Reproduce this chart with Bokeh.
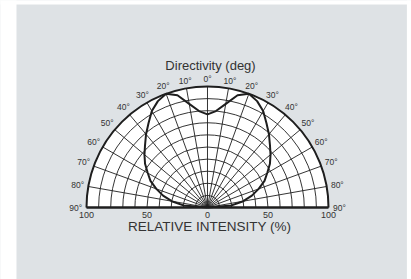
import numpy as np
from bokeh.plotting import figure
from bokeh.models import Range1d
from bokeh.core.properties import value
from bokeh.embed import file_html
from bokeh.resources import INLINE

# ---- data ----
angles_deg = [-90, -85, -80, -75, -70, -65, -60, -55, -50, -45, -40, -35, -30, -25, -20, -15, -10, -5,
              0, 5, 10, 15, 20, 25, 30, 35, 40, 45, 50, 55, 60, 65, 70, 75, 80, 85, 90]
intensity = [0, 20, 30, 38, 45, 52, 57, 63, 68, 73, 79, 85, 92, 97, 100, 96, 87, 80,
             77, 80, 87, 96, 100, 97, 92, 85, 79, 73, 68, 63, 57, 52, 45, 38, 30, 20, 0]
label_angles = [-90, -80, -70, -60, -50, -40, -30, -20, -10, 0, 10, 20, 30, 40, 50, 60, 70, 80, 90]
angle_labels = ["90°", "80°", "70°", "60°", "50°", "40°", "30°", "20°", "10°", "0°",
                "10°", "20°", "30°", "40°", "50°", "60°", "70°", "80°", "90°"]
tick_values = [-100, -50, 0, 50, 100]
tick_labels = ["100", "50", "0", "50", "100"]
ring_values = [10, 20, 30, 40, 50, 60, 70, 80, 90]
ray_angles = list(range(-90, 91, 10))
title_text = "Directivity (deg)"
xlabel_text = "RELATIVE INTENSITY  (%)"

BG = "#dee2e5"
INK = "#1e1e1e"
TXT = "#333333"
FONT = "Liberation Sans"

X0, X1 = -171.07, 168.6
Y0, Y1 = -59.5, 171.07

p = figure(width=411, height=279, x_range=Range1d(X0, X1), y_range=Range1d(Y0, Y1),
           output_backend="svg", toolbar_location=None, x_axis_type=None, y_axis_type=None,
           min_border=0)
p.background_fill_color = BG
p.border_fill_color = BG
p.outline_line_color = None
p.grid.visible = False

# white page margins around the grey panel
p.quad(left=[X0 - 5, X0 - 5, 164.8], right=[-157.85, X1 + 5, X1 + 5],
       bottom=[Y0 - 5, 167.8, Y0 - 5], top=[Y1 + 5, Y1 + 5, Y1 + 5],
       fill_color="white", line_color=None)

# white half disc
p.wedge(x=0, y=0, radius=100, start_angle=0, end_angle=np.pi, fill_color="white", line_color=None)

# rings
p.arc(x=[0] * len(ring_values), y=[0] * len(ring_values), radius=ring_values,
      start_angle=0, end_angle=np.pi, line_color=INK, line_width=0.9)
# rays
ra = np.radians(ray_angles)
p.segment(x0=np.zeros(len(ra)), y0=np.zeros(len(ra)), x1=100 * np.sin(ra), y1=100 * np.cos(ra),
          line_color=INK, line_width=0.9)
# outer arc and baseline
p.arc(x=0, y=0, radius=100, start_angle=0, end_angle=np.pi, line_color=INK, line_width=2)
p.segment(x0=-100, y0=0, x1=100, y1=0, line_color=INK, line_width=2.5)

# radiation pattern
th = np.radians(angles_deg)
I = np.array(intensity, dtype=float)
p.line(I * np.sin(th), I * np.cos(th), line_color=INK, line_width=2, line_join="round")

# angle labels
la = np.radians(label_angles)
lr = 106 + 3 * np.abs(np.sin(la))
p.text(x=lr * np.sin(la), y=lr * np.cos(la), text=angle_labels, text_align="center",
       text_baseline="middle", text_font=value(FONT), text_font_size="8.5px", text_color=TXT)

# tick labels
p.text(x=tick_values, y=[-5.8] * len(tick_values), text=tick_labels, text_align="center",
       text_baseline="middle", text_font=value(FONT), text_font_size="9px", text_color=TXT)

# title and axis label
p.text(x=[2.5], y=[117.4], text=[title_text], text_align="center", text_baseline="middle",
       text_font=value(FONT), text_font_size="13px", text_color=TXT)
p.text(x=[3.3], y=[-15.7], text=[xlabel_text], text_align="center", text_baseline="middle",
       text_font=value(FONT), text_font_size="13.5px", text_color=TXT)

open("out.html", "w").write(file_html(p, INLINE))
